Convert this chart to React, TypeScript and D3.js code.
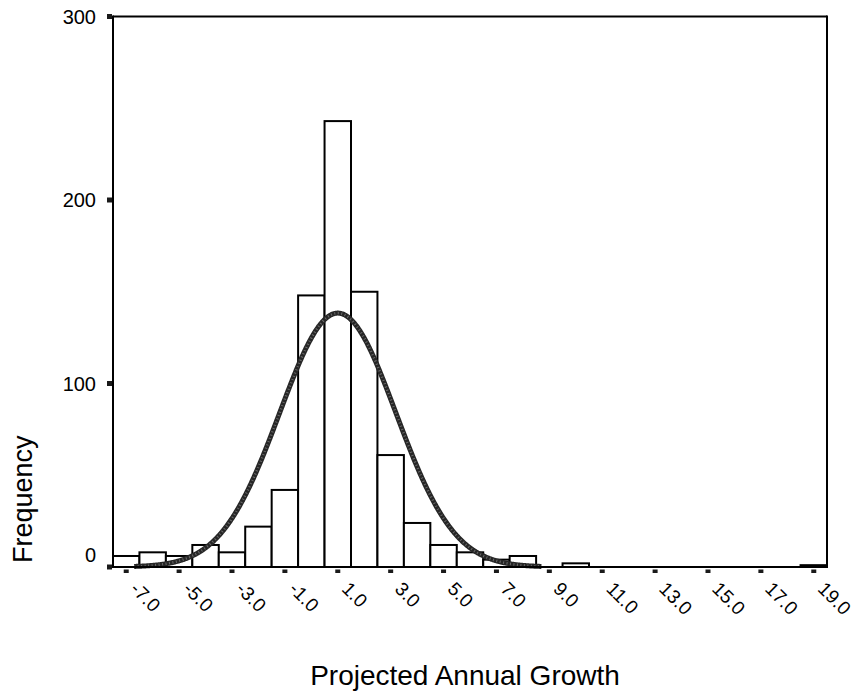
import React from 'react';
import * as d3 from 'd3';

// Histogram bins (midpoints, bin width 1) and frequencies
const binMids = [-7, -6, -5, -4, -3, -2, -1, 0, 1, 2, 3, 4, 5, 6, 7, 8, 9, 10, 11, 12, 13, 14, 15, 16, 17, 18, 19];
const counts = [6, 8, 6, 12, 8, 22, 42, 148, 243, 150, 61, 24, 12, 8, 4, 6, 0, 2, 0, 0, 0, 0, 0, 0, 0, 0, 1];
const binWidth = 1;

// Axis ticks
const xTickValues = [-7, -5, -3, -1, 1, 3, 5, 7, 9, 11, 13, 15, 17, 19];
const xTickLabels = ['-7.0', '-5.0', '-3.0', '-1.0', '1.0', '3.0', '5.0', '7.0', '9.0', '11.0', '13.0', '15.0', '17.0', '19.0'];
const yTickValues = [0, 100, 200, 300];

// Fitted normal curve parameters
const fitMean = 1.0;
const fitSd = 2.2;
const fitSpan = 3.5; // curve drawn over mean ± 3.5 sd

const xTitle = 'Projected Annual Growth';
const yTitle = 'Frequency';

const W = 855;
const H = 694;
const FONT = 'Arial, "Liberation Sans", Helvetica, sans-serif';

export default function App() {
  const x = d3.scaleLinear().domain([-7.5, 19.5]).range([113, 827]);
  const y = d3.scaleLinear().domain([0, 300]).range([567, 16.5]);

  const total = d3.sum(counts);
  const pdf = (v: number) =>
    (total * binWidth) / (fitSd * Math.sqrt(2 * Math.PI)) * Math.exp(-0.5 * ((v - fitMean) / fitSd) ** 2);
  const curvePts = d3
    .range(fitMean - fitSpan * fitSd, fitMean + fitSpan * fitSd + 1e-9, 0.02)
    .map((v) => [v, pdf(v)] as [number, number]);
  const line = d3
    .line<[number, number]>()
    .x((d) => x(d[0]))
    .y((d) => y(d[1]));
  const curvePath = line(curvePts) || '';

  const [x0, x1] = x.range();
  const [yb, yt] = y.range();

  return (
    <svg
      width={W}
      height={H}
      style={{ position: 'absolute', left: 0, top: 0, background: '#fff' }}
      fontFamily={FONT}
    >
      <rect x={0} y={0} width={W} height={H} fill="#fff" />
      {/* bars */}
      {binMids.map((m, i) =>
        counts[i] > 0 ? (
          <rect
            key={'b' + i}
            x={x(m - binWidth / 2)}
            y={y(counts[i])}
            width={x(m + binWidth / 2) - x(m - binWidth / 2)}
            height={y(0) - y(counts[i])}
            fill="#fff"
            stroke="#000"
            strokeWidth={2}
          />
        ) : null
      )}
      {/* normal curve */}
      <path d={curvePath} fill="none" stroke="#262626" strokeWidth={5} strokeLinejoin="round" />
      <path d={curvePath} fill="none" stroke="#6a6a6a" strokeWidth={2.5} strokeDasharray="1 2.5" />
      {/* frame */}
      <line x1={x0} x2={x1} y1={yb} y2={yb} stroke="#000" strokeWidth={2} />
      <line x1={x0} x2={x1} y1={yt} y2={yt} stroke="#000" strokeWidth={2} />
      <line x1={x0} x2={x0} y1={yt - 1} y2={yb + 1} stroke="#000" strokeWidth={2} />
      <line x1={x1} x2={x1} y1={yt - 1} y2={yb + 1} stroke="#000" strokeWidth={2} />
      {/* y ticks */}
      {yTickValues.map((v) => (
        <g key={'yt' + v}>
          <rect x={107} y={y(v) - 2.5} width={5} height={5} fill="#1a1a1a" />
          <text
            x={96}
            y={v === 0 ? y(v) - 12 : y(v)}
            dy="0.35em"
            textAnchor="end"
            fontSize={20}
            fill="#000"
          >
            {v}
          </text>
        </g>
      ))}
      {/* x ticks */}
      {xTickValues.map((v, i) => (
        <g key={'xt' + v}>
          <rect x={x(v) - 2.5} y={569.5} width={5} height={3.5} fill="#1a1a1a" />
          <text
            transform={`translate(${x(v) + 3},${590}) rotate(45)`}
            textAnchor="start"
            fontSize={19}
            fill="#000"
          >
            {xTickLabels[i]}
          </text>
        </g>
      ))}
      {/* titles */}
      <text x={465} y={685} textAnchor="middle" fontSize={28} fill="#000">
        {xTitle}
      </text>
      <text transform={`translate(31.5,563) rotate(-90)`} textAnchor="start" fontSize={27} fill="#000">
        {yTitle}
      </text>
    </svg>
  );
}
